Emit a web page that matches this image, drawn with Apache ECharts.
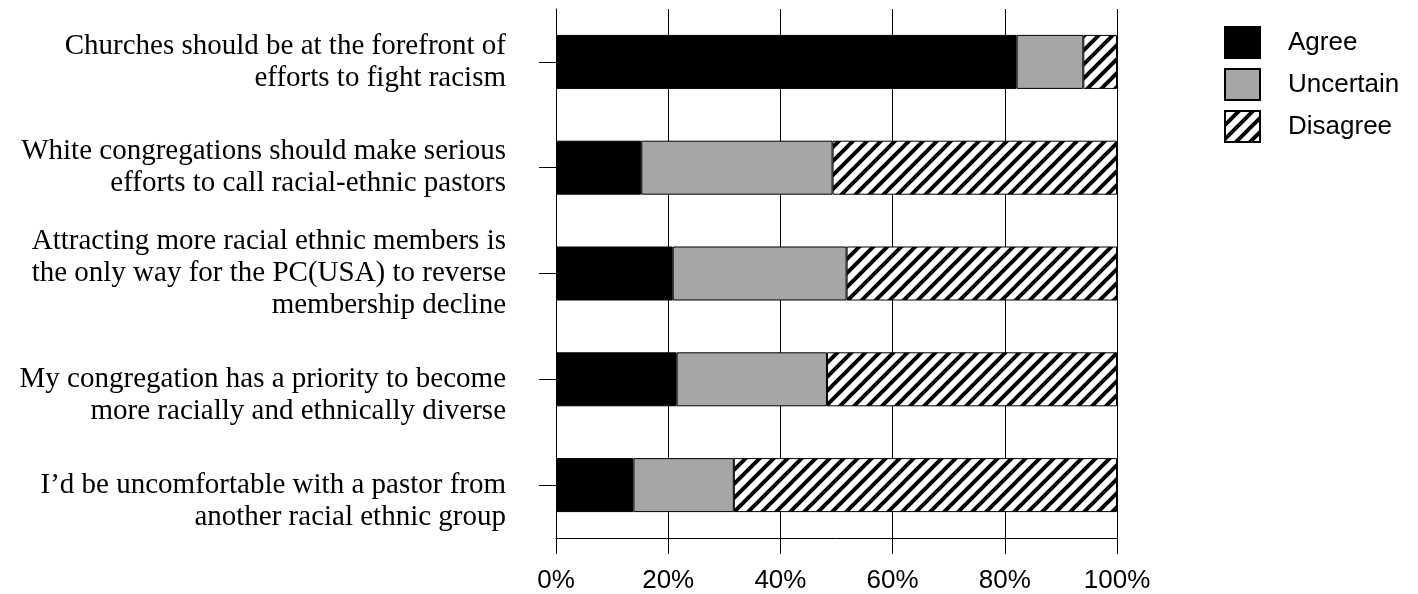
<!DOCTYPE html>
<html>
<head>
<meta charset="utf-8">
<script src="https://cdn.jsdelivr.net/npm/echarts@6/dist/echarts.min.js"></script>
<style>
  html, body { margin: 0; padding: 0; background: #fff; }
  #chart { width: 1418px; height: 594px; }
</style>
</head>
<body>
<div id="chart"></div>
<script>
// statements, top to bottom
const categories = [
  'Churches should be at the forefront of\nefforts to fight racism',
  'White congregations should make serious\nefforts to call racial-ethnic pastors',
  'Attracting more racial ethnic members is\nthe only way for the PC(USA) to reverse\nmembership decline',
  'My congregation has a priority to become\nmore racially and ethnically diverse',
  'I\u2019d be uncomfortable with a pastor from\nanother racial ethnic group'
]
const seriesNames = ['Agree', 'Uncertain', 'Disagree']
const agree = [82.1, 15.2, 20.8, 21.5, 13.8]
const uncertain = [11.9, 34.1, 31.0, 26.8, 17.9]
const disagree = [6.0, 50.7, 48.2, 51.7, 68.3]
const xTicks = ['0%', '20%', '40%', '60%', '80%', '100%']

// hatch pattern for Disagree
function hatch() {
  let size = 14
  let c = document.createElement('canvas')
  c.width = size
  c.height = size
  let ctx = c.getContext('2d')
  ctx.fillStyle = '#fff'
  ctx.fillRect(0, 0, size, size)
  ctx.strokeStyle = '#000'
  ctx.lineWidth = 4
  ctx.beginPath()
  ctx.moveTo(-size / 2, size / 2)
  ctx.lineTo(size / 2, -size / 2)
  ctx.moveTo(0, size)
  ctx.lineTo(size, 0)
  ctx.moveTo(size / 2, size * 1.5)
  ctx.lineTo(size * 1.5, size / 2)
  ctx.stroke()
  return c
}

let charts = echarts.init(document.getElementById('chart'), null, { renderer: 'canvas' })

let fills = ['#000000', '#a6a6a6', { image: hatch(), repeat: 'repeat' }]
let values = [agree, uncertain, disagree]

let option = {
  animation: false,
  backgroundColor: '#fff',
  grid: {
    left: 556,
    right: 301,
    top: 9,
    bottom: 51
  },
  legend: {
    orient: 'vertical',
    left: 1219,
    top: 21,
    itemWidth: 35,
    itemHeight: 31,
    itemGap: 9,
    icon: 'rect',
    textStyle: {
      fontFamily: 'Liberation Sans',
      fontSize: 26,
      color: '#000',
      padding: [0, 0, 0, 23]
    },
    data: seriesNames
  },
  xAxis: {
    type: 'value',
    min: 0,
    max: 100,
    interval: 20,
    axisLine: {
      show: true,
      lineStyle: { color: '#000', width: 1 }
    },
    axisTick: {
      show: true,
      length: 16,
      lineStyle: { color: '#000' }
    },
    splitLine: {
      show: true,
      lineStyle: { color: '#000', width: 1 }
    },
    axisLabel: {
      margin: 30,
      fontFamily: 'Liberation Sans',
      fontSize: 26,
      color: '#000',
      formatter: function(v) {
        return xTicks[Math.round(v / 20)]
      }
    }
  },
  yAxis: {
    type: 'category',
    inverse: true,
    data: categories,
    axisLine: {
      show: true,
      lineStyle: { color: '#000', width: 1 }
    },
    axisTick: {
      show: true,
      alignWithLabel: true,
      length: 17,
      lineStyle: { color: '#000' }
    },
    splitLine: { show: false },
    axisLabel: {
      margin: 50,
      fontFamily: 'Liberation Serif',
      fontSize: 29,
      lineHeight: 32,
      color: '#000',
      align: 'right',
      // the last two statements sit with their first line on the tick
      formatter: function(value, index) {
        return index >= 3 ? '\n' + value : value
      }
    }
  },
  series: seriesNames.map(function(name, i) {
    return {
      name: name,
      type: 'bar',
      stack: 'total',
      barWidth: 54,
      itemStyle: {
        color: fills[i],
        borderColor: '#000',
        borderWidth: 1
      },
      data: values[i]
    }
  })
}
charts.setOption(option)
</script>
</body>
</html>
